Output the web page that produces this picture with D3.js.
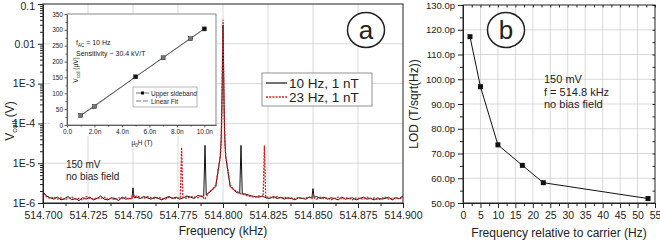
<!DOCTYPE html>
<html>
<head>
<meta charset="utf-8">
<script src="https://cdn.jsdelivr.net/npm/d3@7"></script>
<style>
  body { margin: 0; background: #fff; }
  svg { font-family: "Liberation Sans", Arial, sans-serif; }
  .tick text { font-size: 10.5px; fill: #222; }
  .domain { stroke: #222; }
  .tick line { stroke: #222; }
</style>
</head>
<body>
<div id="chart"></div>
<script>
/**
 * Data.
 */

// panel a: spectrum around the carrier (kHz), values in uV
var carrier = 514.800;
var xTicksA = [514.700, 514.725, 514.750, 514.775, 514.800, 514.825, 514.850, 514.875, 514.900];
var yTicksA = [1e-6, 1e-5, 1e-4, 1e-3, 1e-2, 1e-1];
var yTickLabelsA = ["1E-6", "1E-5", "1E-4", "1E-3", "0.01", "0.1"];

// baseline every 2 Hz from -100 Hz to +100 Hz (uV)
var base10Hz = [
  1.9, 1.5, 1.35, 1.25, 1.4, 1.2, 1.3, 1.45, 1.2, 1.3,
  1.15, 1.35, 1.25, 1.4, 1.2, 1.3, 1.5, 1.25, 1.2, 1.35,
  1.3, 1.15, 1.4, 1.25, 1.3, 1.4, 1.4, 1.3, 1.45, 1.35,
  1.25, 1.4, 1.3, 1.2, 1.35, 1.45, 1.3, 1.4, 1.25, 1.35,
  1.5, 1.4, 1.3, 1.55, 1.45, 1.5, 1.8, 2.1, 2.6, 7,
  30000,
  7, 2.6, 2.1, 1.8, 1.7, 1.7, 1.6, 1.5, 1.45, 1.4,
  1.5, 1.35, 1.3, 1.45, 1.3, 1.4, 1.25, 1.35, 1.3, 1.2,
  1.35, 1.3, 1.25, 1.4, 1.35, 1.45, 1.3, 1.4, 1.25, 1.35,
  1.3, 1.2, 1.4, 1.25, 1.3, 1.35, 1.2, 1.3, 1.4, 1.25,
  1.3, 1.2, 1.35, 1.25, 1.3, 1.4, 1.2, 1.35, 1.3, 1.5
];
var base23Hz = [
  1.7, 1.45, 1.3, 1.4, 1.25, 1.35, 1.2, 1.3, 1.4, 1.25,
  1.3, 1.2, 1.45, 1.3, 1.25, 1.35, 1.3, 1.4, 1.25, 1.3,
  1.2, 1.35, 1.3, 1.4, 1.25, 1.4, 1.5, 1.4, 1.3, 1.45,
  1.35, 1.3, 1.4, 1.3, 1.25, 1.4, 1.35, 1.3, 1.4, 1.35,
  1.3, 1.45, 1.4, 1.35, 1.5, 1.25, 1.8, 2.2, 2.8, 7,
  40000,
  7, 2.8, 2.2, 1.9, 1.7, 1.6, 1.5, 1.45, 1.4, 1.5,
  1.4, 1.5, 1.4, 1.35, 1.45, 1.3, 1.4, 1.3, 1.35, 1.25,
  1.4, 1.3, 1.35, 1.4, 1.3, 1.25, 1.4, 1.3, 1.35, 1.2,
  1.3, 1.4, 1.25, 1.35, 1.3, 1.2, 1.35, 1.3, 1.25, 1.4,
  1.3, 1.35, 1.2, 1.3, 1.4, 1.25, 1.3, 1.35, 1.25, 1.4
];
// narrow features: [offset Hz, uV]
var peaks10Hz = [
  [-50.6, 1.3], [-50, 2.4], [-49.4, 1.35],
  [-10.7, 1.5], [-10, 28], [-9.3, 1.6],
  [-1.5, 15], [-1, 40], [-0.6, 300], [-0.3, 3000], [0, 30000], [0.3, 3000], [0.6, 300], [1, 40], [1.5, 15],
  [9.3, 1.8], [10, 28], [10.7, 1.7],
  [49.4, 1.35], [50, 2.3], [50.6, 1.4]
];
var peaks23Hz = [
  [-50.6, 1.3], [-50, 1.8], [-49.4, 1.4],
  [-23.7, 1.35], [-23, 25], [-22.3, 1.4],
  [-1.5, 15], [-1, 40], [-0.6, 300], [-0.3, 3000], [0, 40000], [0.3, 3000], [0.6, 300], [1, 40], [1.5, 15],
  [22.3, 1.45], [23, 28], [23.7, 1.4],
  [49.4, 1.3], [50, 1.6], [50.6, 1.35]
];
var seriesNames = ["10 Hz, 1 nT", "23 Hz, 1 nT"];

// inset: sideband amplitude vs field
var insetField = [1, 2, 5, 7, 9, 10];          // nT
var insetVolt = [30, 58, 152, 212, 272, 303];  // uV
var insetFit = [0.9, 10.1];
var sensitivity = 30.4;                         // uV/nT
var insetXTicks = [0, 2, 4, 6, 8, 10];
var insetYTicks = [0, 50, 100, 150, 200, 250, 300, 350];

// panel b: LOD vs frequency relative to carrier
var lodFreq = [2, 5, 10, 17, 23, 53];
var lodVal = [117.2, 97, 73.5, 65.2, 58.2, 51.8];
var xTicksB = d3.range(0, 56, 5);
var yTicksB = d3.range(50, 131, 10);

var width = 660, height = 241;
var ink = "#222";
var red = "#d81e1e";

var svg = d3.select("#chart").append("svg")
    .attr("width", width)
    .attr("height", height);

function buildSeries(base, peaks) {
    var pts = base.map((v, i) => [-100 + 2 * i, v])
        .filter(p => !peaks.some(q => Math.abs(q[0] - p[0]) < 0.8));
    pts = pts.concat(peaks);
    pts.sort((a, b) => a[0] - b[0]);
    return pts.map(p => [carrier + p[0] / 1000, p[1] * 1e-6]);
}

/* ---------------- panel a ---------------- */
var xA = d3.scaleLinear().domain([514.7, 514.9]).range([43, 403]);
var yA = d3.scaleLog().domain([1e-6, 0.1]).range([203, 4]);

var gridA = svg.append("g").attr("stroke", "#c8c8c8").attr("stroke-width", 0.7);
gridA.selectAll(".gx").data(xTicksA.slice(1, -1)).enter().append("line")
    .attr("x1", d => xA(d)).attr("x2", d => xA(d))
    .attr("y1", yA(0.1)).attr("y2", yA(1e-6));
gridA.selectAll(".gy").data(yTicksA.slice(1, -1)).enter().append("line")
    .attr("x1", xA(514.7)).attr("x2", xA(514.9))
    .attr("y1", d => yA(d)).attr("y2", d => yA(d));

var line = d3.line().x(d => xA(d[0])).y(d => yA(Math.min(d[1], 0.1)));

svg.append("path")
    .datum(buildSeries(base10Hz, peaks10Hz))
    .attr("fill", "none")
    .attr("stroke", "#111")
    .attr("stroke-width", 1)
    .attr("d", line);

svg.append("path")
    .datum(buildSeries(base23Hz, peaks23Hz))
    .attr("fill", "none")
    .attr("stroke", red)
    .attr("stroke-width", 1.3)
    .attr("stroke-dasharray", "2,1.2")
    .attr("d", line);

// axes
var minorA = d3.range(514.7, 514.9001, 0.0125).filter((d, i) => i % 2 == 1);
svg.append("g")
    .attr("transform", `translate(0,${yA(1e-6)})`)
    .call(d3.axisBottom(xA).tickValues(minorA).tickSize(3).tickFormat(""))
    .call(g => g.select(".domain").remove());
svg.append("g")
    .attr("transform", `translate(0,${yA(1e-6)})`)
    .call(d3.axisBottom(xA).tickValues(xTicksA).tickSize(5).tickSizeOuter(0).tickPadding(4)
        .tickFormat(d => d.toFixed(3)));

var minorLog = [];
yTicksA.slice(0, -1).forEach(dec => {
    for (var k = 2; k <= 9; k++) minorLog.push(dec * k);
});
svg.append("g")
    .attr("transform", `translate(${xA(514.7)},0)`)
    .call(d3.axisLeft(yA).tickValues(minorLog).tickSize(3).tickFormat(""))
    .call(g => g.select(".domain").remove());
svg.append("g")
    .attr("transform", `translate(${xA(514.7)},0)`)
    .call(d3.axisLeft(yA).tickValues(yTicksA).tickSize(5).tickSizeOuter(0).tickPadding(3)
        .tickFormat((d, i) => yTickLabelsA[i]))
    .call(g => g.selectAll(".tick text").filter(d => d == 0.1).attr("dy", "0.5em"));

svg.append("rect")
    .attr("x", xA(514.7)).attr("y", yA(0.1))
    .attr("width", xA(514.9) - xA(514.7)).attr("height", yA(1e-6) - yA(0.1))
    .attr("fill", "none").attr("stroke", ink).attr("stroke-width", 1);

svg.append("text")
    .attr("x", xA(514.8)).attr("y", 235)
    .attr("text-anchor", "middle")
    .style("font-size", "12px").attr("fill", ink)
    .text("Frequency (kHz)");

var vlab = svg.append("text")
    .attr("transform", "translate(14,121) rotate(-90)")
    .attr("text-anchor", "middle")
    .style("font-size", "12px").attr("fill", ink);
vlab.append("tspan").text("V");
vlab.append("tspan").attr("dy", 3).style("font-size", "8px").text("coil");
vlab.append("tspan").attr("dy", -3).text(" (V)");

svg.append("text").attr("x", 66).attr("y", 167.5)
    .style("font-size", "10px").attr("fill", ink).text("150 mV");
svg.append("text").attr("x", 66).attr("y", 179.5)
    .style("font-size", "10px").attr("fill", ink).text("no bias field");

// legend
var legA = svg.append("g");
legA.append("rect")
    .attr("x", 262).attr("y", 73).attr("width", 110).attr("height", 33)
    .attr("fill", "#fff").attr("stroke", "#777").attr("stroke-width", 0.8);
legA.append("line").attr("x1", 266).attr("x2", 287).attr("y1", 83).attr("y2", 83)
    .attr("stroke", "#111").attr("stroke-width", 1.2);
legA.append("line").attr("x1", 266).attr("x2", 287).attr("y1", 97).attr("y2", 97)
    .attr("stroke", red).attr("stroke-width", 1.3).attr("stroke-dasharray", "2,1.2");
legA.selectAll("text").data(seriesNames).enter().append("text")
    .attr("x", 289).attr("y", (d, i) => 88 + i * 14)
    .style("font-size", "13.5px").attr("fill", ink)
    .text(d => d);

// circled label
svg.append("ellipse").attr("cx", 366).attr("cy", 30).attr("rx", 18.5).attr("ry", 17.5)
    .attr("fill", "#fff").attr("stroke", ink).attr("stroke-width", 1.5);
svg.append("text").attr("x", 366).attr("y", 39).attr("text-anchor", "middle")
    .style("font-size", "26px").attr("fill", ink).text("a");

/* ---------------- inset ---------------- */
var xI = d3.scaleLinear().domain([0, 10.85]).range([67, 216]);
var yI = d3.scaleLinear().domain([0, 350]).range([125, 14]);

svg.append("rect").attr("x", 50).attr("y", 13).attr("width", 167).attr("height", 123)
    .attr("fill", "#fff");
svg.append("rect").attr("x", 129).attr("y", 136).attr("width", 28).attr("height", 11)
    .attr("fill", "#fff");

var inset = svg.append("g").attr("class", "inset");
inset.append("g")
    .attr("transform", `translate(0,${yI(0)})`)
    .call(d3.axisBottom(xI).tickValues(insetXTicks).tickSize(2.5).tickSizeOuter(0).tickPadding(1.5)
        .tickFormat(d => d == 0 ? "0.0" : d.toFixed(1) + "n"));
inset.append("g")
    .attr("transform", `translate(0,${yI(0)})`)
    .call(d3.axisBottom(xI).tickValues(d3.range(1, 11, 2)).tickSize(1.5).tickFormat(""))
    .call(g => g.select(".domain").remove());
inset.append("g")
    .attr("transform", `translate(${xI(0)},0)`)
    .call(d3.axisLeft(yI).tickValues(insetYTicks).tickSize(2.5).tickSizeOuter(0).tickPadding(1.5));
inset.append("g")
    .attr("transform", `translate(${xI(0)},0)`)
    .call(d3.axisLeft(yI).tickValues(d3.range(25, 350, 50)).tickSize(1.5).tickFormat(""))
    .call(g => g.select(".domain").remove());
inset.selectAll(".tick text").style("font-size", "6.5px");
inset.selectAll(".domain, .tick line").attr("stroke-width", 0.7);

inset.append("rect")
    .attr("x", xI(0)).attr("y", yI(350))
    .attr("width", 216 - xI(0)).attr("height", yI(0) - yI(350))
    .attr("fill", "none").attr("stroke", "#555").attr("stroke-width", 0.7);

// fit line and data
inset.append("line")
    .attr("x1", xI(insetFit[0])).attr("y1", yI(insetFit[0] * sensitivity))
    .attr("x2", xI(insetFit[1])).attr("y2", yI(insetFit[1] * sensitivity))
    .attr("stroke", "#444").attr("stroke-width", 0.8);
inset.append("path")
    .datum(d3.zip(insetField, insetVolt))
    .attr("fill", "none").attr("stroke", "#555").attr("stroke-width", 0.6)
    .attr("d", d3.line().x(d => xI(d[0])).y(d => yI(d[1])));
inset.selectAll(".pt").data(d3.zip(insetField, insetVolt)).enter().append("rect")
    .attr("x", d => xI(d[0]) - 2).attr("y", d => yI(d[1]) - 2)
    .attr("width", 4).attr("height", 4)
    .attr("fill", (d, i) => (i == 2 || i == 5) ? "#111" : "#777")
    .attr("stroke", "#222").attr("stroke-width", 0.5);

var ilab = inset.append("text")
    .attr("transform", "translate(78,70) rotate(-90)")
    .attr("text-anchor", "middle")
    .style("font-size", "6.5px").attr("fill", ink);
ilab.append("tspan").text("V");
ilab.append("tspan").attr("dy", 1.5).style("font-size", "4.5px").text("coil");
ilab.append("tspan").attr("dy", -1.5).text(" (\u00b5V)");

var hlab = inset.append("text")
    .attr("x", 142).attr("y", 145).attr("text-anchor", "middle")
    .style("font-size", "6.5px").attr("fill", ink);
hlab.append("tspan").text("\u00b5");
hlab.append("tspan").attr("dy", 1.5).style("font-size", "4.5px").text("0");
hlab.append("tspan").attr("dy", -1.5).text("H (T)");

var ftxt = inset.append("text").attr("x", 76).attr("y", 45)
    .style("font-size", "7px").attr("fill", ink);
ftxt.append("tspan").text("f");
ftxt.append("tspan").attr("dy", 1.5).style("font-size", "4.5px").text("AC");
ftxt.append("tspan").attr("dy", -1.5).text(" = 10 Hz");
inset.append("text").attr("x", 76).attr("y", 56)
    .style("font-size", "7px").attr("fill", ink)
    .text("Sensitivity ~ " + sensitivity + " kV/T");

var legI = inset.append("g");
legI.append("rect").attr("x", 133).attr("y", 87).attr("width", 64).attr("height", 20)
    .attr("fill", "#fff").attr("stroke", "#888").attr("stroke-width", 0.6);
legI.append("line").attr("x1", 136).attr("x2", 149).attr("y1", 93).attr("y2", 93)
    .attr("stroke", "#333").attr("stroke-width", 0.7);
legI.append("rect").attr("x", 141).attr("y", 91.5).attr("width", 3).attr("height", 3)
    .attr("fill", "#111");
legI.append("line").attr("x1", 136).attr("x2", 149).attr("y1", 101).attr("y2", 101)
    .attr("stroke", "#444").attr("stroke-width", 0.7).attr("stroke-dasharray", "5,2");
legI.append("text").attr("x", 151).attr("y", 95.5)
    .style("font-size", "6.5px").attr("fill", ink).text("Upper sideband");
legI.append("text").attr("x", 151).attr("y", 103.5)
    .style("font-size", "6.5px").attr("fill", ink).text("Linear Fit");

/* ---------------- panel b ---------------- */
var xB = d3.scaleLinear().domain([0, 55]).range([463, 655]);
var yB = d3.scaleLinear().domain([50, 130]).range([203, 5]);

var gridB = svg.append("g").attr("stroke", "#c8c8c8").attr("stroke-width", 0.7);
gridB.selectAll(".gx").data(xTicksB.slice(1, -1)).enter().append("line")
    .attr("x1", d => xB(d)).attr("x2", d => xB(d))
    .attr("y1", yB(130)).attr("y2", yB(50));
gridB.selectAll(".gy").data(yTicksB.slice(1, -1)).enter().append("line")
    .attr("x1", xB(0)).attr("x2", xB(55))
    .attr("y1", d => yB(d)).attr("y2", d => yB(d));

svg.append("g")
    .attr("transform", `translate(0,${yB(50)})`)
    .call(d3.axisBottom(xB).tickValues(d3.range(2.5, 55, 5)).tickSize(3).tickFormat(""))
    .call(g => g.select(".domain").remove());
svg.append("g")
    .attr("transform", `translate(0,${yB(50)})`)
    .call(d3.axisBottom(xB).tickValues(xTicksB).tickSize(5).tickSizeOuter(0).tickPadding(4));
svg.append("g")
    .attr("transform", `translate(${xB(0)},0)`)
    .call(d3.axisLeft(yB).tickValues(d3.range(55, 130, 10)).tickSize(3).tickFormat(""))
    .call(g => g.select(".domain").remove());
svg.append("g")
    .attr("transform", `translate(${xB(0)},0)`)
    .call(d3.axisLeft(yB).tickValues(yTicksB).tickSize(5).tickSizeOuter(0).tickPadding(3)
        .tickFormat(d => d.toFixed(1) + "p"))
    .call(g => g.selectAll(".tick text").style("font-size", "9.5px"));
// mirrored ticks
svg.append("g")
    .attr("transform", `translate(0,${yB(130)})`)
    .call(d3.axisBottom(xB).tickValues(d3.range(0, 55.1, 2.5)).tickSize(2.5).tickFormat(""))
    .call(g => g.select(".domain").remove());
svg.append("g")
    .attr("transform", `translate(${xB(55)},0)`)
    .call(d3.axisLeft(yB).tickValues(d3.range(50, 130.1, 5)).tickSize(2.5).tickFormat(""))
    .call(g => g.select(".domain").remove());

svg.append("rect")
    .attr("x", xB(0)).attr("y", yB(130))
    .attr("width", xB(55) - xB(0)).attr("height", yB(50) - yB(130))
    .attr("fill", "none").attr("stroke", ink).attr("stroke-width", 1);

svg.append("path")
    .datum(d3.zip(lodFreq, lodVal))
    .attr("fill", "none").attr("stroke", "#111").attr("stroke-width", 1)
    .attr("d", d3.line().x(d => xB(d[0])).y(d => yB(d[1])));
svg.selectAll(".lod").data(d3.zip(lodFreq, lodVal)).enter().append("rect")
    .attr("x", d => xB(d[0]) - 2.5).attr("y", d => yB(d[1]) - 2.5)
    .attr("width", 5).attr("height", 5).attr("fill", "#111");

svg.append("text")
    .attr("x", 559).attr("y", 237).attr("text-anchor", "middle")
    .style("font-size", "12px").attr("fill", ink)
    .text("Frequency relative to carrier (Hz)");
svg.append("text")
    .attr("transform", "translate(418,104) rotate(-90)")
    .attr("text-anchor", "middle")
    .style("font-size", "12px").attr("fill", ink)
    .text("LOD (T/sqrt(Hz))");

["150 mV", "f = 514.8 kHz", "no bias field"].forEach((t, i) => {
    svg.append("text").attr("x", 544).attr("y", 83 + i * 12.5)
        .style("font-size", "11px").attr("fill", ink).text(t);
});

svg.append("ellipse").attr("cx", 506).attr("cy", 30).attr("rx", 18.5).attr("ry", 17.5)
    .attr("fill", "#fff").attr("stroke", ink).attr("stroke-width", 1.5);
svg.append("text").attr("x", 506).attr("y", 39).attr("text-anchor", "middle")
    .style("font-size", "26px").attr("fill", ink).text("b");
</script>
</body>
</html>
